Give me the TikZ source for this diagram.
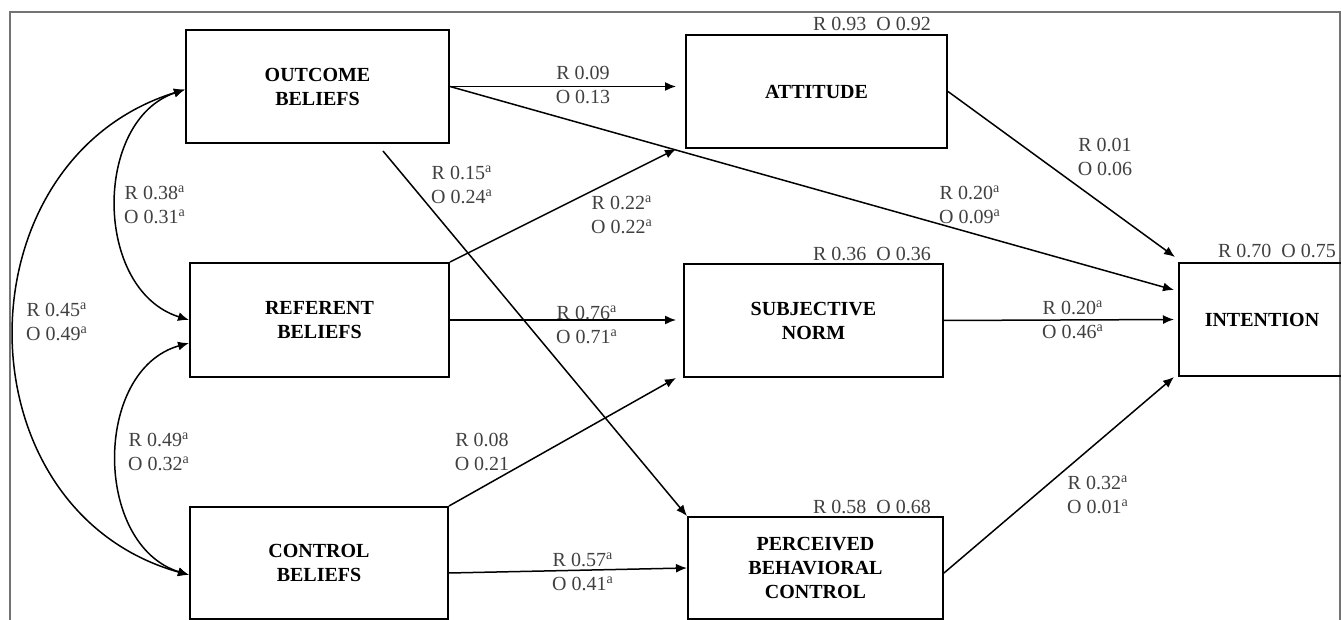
\documentclass[tikz,border=0pt]{standalone}
\usepackage{fontspec}
\setmainfont{Liberation Serif}
\usepackage{tikz}
\usetikzlibrary{arrows.meta}

\newcommand{\siga}{\textsuperscript{a}}

\tikzset{
  construct/.style={draw, line width=1pt, align=center, font=\bfseries, inner sep=0pt},
  path/.style={line width=0.75pt, -{Latex[length=5.5pt,width=4.5pt]}},
  corr/.style={line width=0.75pt, {Latex[length=5.5pt,width=4.5pt]}-{Latex[length=5.5pt,width=4.5pt]}},
  coef/.style={align=center, text=black!75, inner sep=0pt},
  rsq/.style={text=black!75, inner sep=0pt}
}

\begin{document}
\begin{tikzpicture}[x=0.5pt, y=-0.5pt]
\useasboundingbox (0,0) rectangle (1341,620);
% Frame
\draw[black!55, line width=1pt] (10,630) -- (10,12) -- (1340,12) -- (1340,630);

% Beliefs
\node[construct, minimum width=131.5pt, minimum height=56.5pt] (outcome) at (317.5,86.5) {OUTCOME\\BELIEFS};
\node[construct, minimum width=129.5pt, minimum height=57pt] (referent) at (319.5,320) {REFERENT\\BELIEFS};
\node[construct, minimum width=129pt, minimum height=56pt] (control) at (319,563) {CONTROL\\BELIEFS};

% Attitude, norm, control
\node[construct, minimum width=130.5pt, minimum height=56.5pt] (attitude) at (816.5,91.5) {ATTITUDE};
\node[construct, minimum width=129.5pt, minimum height=56.5pt] (subjnorm) at (813.5,320.5) {SUBJECTIVE\\NORM};
\node[construct, minimum width=127.5pt, minimum height=51pt] (pbc) at (815.5,568) {PERCEIVED\\BEHAVIORAL\\CONTROL};

% Intention
\node[construct, minimum width=83pt, minimum height=56.5pt] (intention) at (1262,319.5) {INTENTION};

% Explained variance
\node[rsq] (r_att) at (872,24) {R 0.93\hspace{5pt}O 0.92};
\node[rsq] (r_sn) at (872,254) {R 0.36\hspace{5pt}O 0.36};
\node[rsq] (r_pbc) at (872,507) {R 0.58\hspace{5pt}O 0.68};
\node[rsq] (r_int) at (1277,251) {R 0.70\hspace{5pt}O 0.75};

% Paths from outcome beliefs
\draw[path, shorten >=4.5pt] (outcome.east) -- (attitude.west |- outcome.east);
\draw[path] (outcome.east) -- ([shift={(-4,28)}]intention.north west);
\draw[path] ([shift={(65.5,7)}]outcome.south) -- (pbc.north west);

% Paths from referent beliefs
\draw[path] (referent.north east) -- ([xshift=-4.5pt]attitude.south west);
\draw[path, shorten >=3.5pt] (referent.east) -- (subjnorm.west |- referent.east);

% Paths from control beliefs
\draw[path] (control.north east) -- ([xshift=-3.5pt]subjnorm.south west);
\draw[path] ([shift={(0,10)}]control.east) -- (pbc.west);

% Paths to intention
\draw[path] (attitude.east) -- ([shift={(-3,-5)}]intention.north west);
\draw[path, shorten >=2pt] (subjnorm.east) -- (intention.west);
\draw[path] ([shift={(0,5)}]pbc.east) -- ([xshift=-2pt]intention.south west);

% Correlations
\draw[corr] ([yshift=-1.5pt]outcome.west) .. controls (93,120) and (93,290) .. (referent.west);
\draw[corr] ([yshift=-11.5pt]referent.west) .. controls (93,370) and (93,545) .. ([yshift=-6pt]control.west);
\draw[corr] ([yshift=-1.5pt]outcome.west) .. controls (-43,160) and (-43,510) .. ([yshift=-6pt]control.west);

% Coefficients
\node[coef] (c_oa) at (583,85) {R 0.09\\O 0.13};
\node[coef] (c_oi) at (970,205) {R 0.20\siga\\O 0.09\siga};
\node[coef] (c_op) at (462,185) {R 0.15\siga\\O 0.24\siga};
\node[coef] (c_ra) at (622,215) {R 0.22\siga\\O 0.22\siga};
\node[coef] (c_rs) at (587,325) {R 0.76\siga\\O 0.71\siga};
\node[coef] (c_cs) at (482,452) {R 0.08\\O 0.21};
\node[coef] (c_cp) at (583,572) {R 0.57\siga\\O 0.41\siga};
\node[coef] (c_ai) at (1105,157) {R 0.01\\O 0.06};
\node[coef] (c_si) at (1073,320) {R 0.20\siga\\O 0.46\siga};
\node[coef] (c_pi) at (1098,495) {R 0.32\siga\\O 0.01\siga};
\node[coef] (c_or) at (155,205) {R 0.38\siga\\O 0.31\siga};
\node[coef] (c_rc) at (159,452) {R 0.49\siga\\O 0.32\siga};
\node[coef] (c_oc) at (57,322) {R 0.45\siga\\O 0.49\siga};
\end{tikzpicture}
\end{document}
